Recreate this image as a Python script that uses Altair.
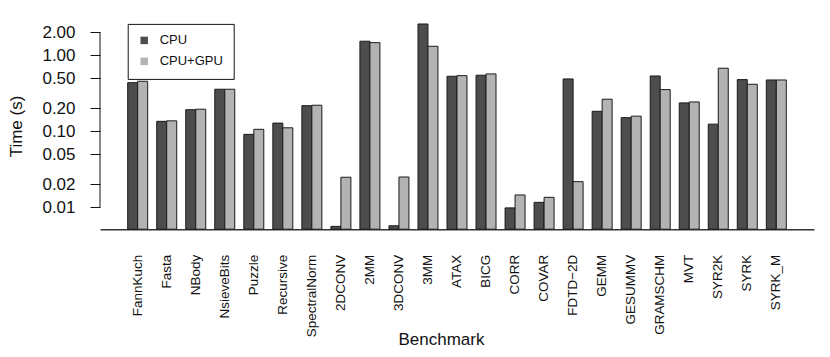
import altair as alt
import pandas as pd

benchmarks = ["FannKuch", "Fasta", "NBody", "NsieveBits", "Puzzle", "Recursive",
              "SpectralNorm", "2DCONV", "2MM", "3DCONV", "3MM", "ATAX", "BICG",
              "CORR", "COVAR", "FDTD\u22122D", "GEMM", "GESUMMV", "GRAMSCHM", "MVT",
              "SYR2K", "SYRK", "SYRK_M"]
cpu = [0.436, 0.135, 0.192, 0.357, 0.091, 0.128, 0.217, 0.0056, 1.53, 0.0057,
       2.58, 0.529, 0.546, 0.0098, 0.0116, 0.488, 0.183, 0.151, 0.534, 0.236,
       0.124, 0.478, 0.473]
cpu_gpu = [0.455, 0.137, 0.195, 0.357, 0.106, 0.111, 0.220, 0.0248, 1.465, 0.0250,
           1.313, 0.539, 0.568, 0.0145, 0.0135, 0.0217, 0.264, 0.158, 0.353, 0.243,
           0.675, 0.415, 0.473]
series = ["CPU", "CPU+GPU"]
y_ticks = [0.01, 0.02, 0.05, 0.1, 0.2, 0.5, 1.0, 2.0]
y_domain = [0.00514, 3.0]

rows = []
for b, c, g in zip(benchmarks, cpu, cpu_gpu):
    rows.append({"Benchmark": b, "Series": series[0], "Time": c})
    rows.append({"Benchmark": b, "Series": series[1], "Time": g})
df = pd.DataFrame(rows)

FONT = "Liberation Sans"
yscale = alt.Scale(type="log", domain=y_domain, nice=False)

bars = alt.Chart(df).mark_bar(stroke="#1a1a1a", strokeWidth=1).encode(
    x=alt.X("Benchmark:N", sort=benchmarks,
            scale=alt.Scale(paddingInner=0.3115, paddingOuter=0.9535),
            axis=alt.Axis(title="Benchmark", labelAngle=-90, ticks=False,
                          labelPadding=25, labelFontSize=13.5, labelFont=FONT,
                          labelColor="#111", domainColor="#333", domainWidth=1.5,
                          titleFont=FONT, titleFontSize=17, titleFontWeight="normal",
                          titleColor="#111", titleX=341, titleY=115,
                          titleBaseline="alphabetic", titleAlign="center")),
    xOffset=alt.XOffset("Series:N", sort=series),
    y=alt.Y("Time:Q", scale=yscale,
            axis=alt.Axis(title="Time (s)", values=y_ticks, format=".2f",
                          domain=False, grid=False, tickSize=10, tickColor="#111",
                          labelPadding=15, labelFontSize=17, labelFont=FONT,
                          labelColor="#111",
                          titleFont=FONT, titleFontSize=17, titleFontWeight="normal",
                          titleColor="#111", titleX=-84, titleY=107,
                          titleAngle=-90, titleAlign="center",
                          titleBaseline="middle")),
    y2=alt.datum(y_domain[0]),
    color=alt.Color("Series:N", sort=series,
                    scale=alt.Scale(domain=series, range=["#4d4d4d", "#b3b3b3"]),
                    legend=alt.Legend(title=None, orient="none", legendX=27.7,
                                      legendY=4.9, strokeColor="#111",
                                      fillColor="white", padding=10,
                                      symbolType="square", symbolSize=56,
                                      symbolStrokeWidth=0, labelFontSize=13,
                                      labelFont=FONT, labelColor="#111",
                                      labelOffset=9, rowPadding=7,
                                      cornerRadius=0)),
)

axis_line = alt.Chart(pd.DataFrame({"lo": [y_ticks[0]], "hi": [y_ticks[-1]]})).mark_rule(
    color="#111", strokeWidth=1
).encode(
    x=alt.value(0),
    y=alt.Y("lo:Q", scale=yscale),
    y2="hi:Q",
)

chart = alt.layer(bars, axis_line).properties(
    width=714, height=210.2,
    autosize=alt.AutoSizeParams(type="none"),
    padding={"left": 92, "top": 11, "right": 8, "bottom": 120},
).configure_view(stroke=None)

chart.save("out.html", embed_options={"renderer": "svg", "actions": False})
